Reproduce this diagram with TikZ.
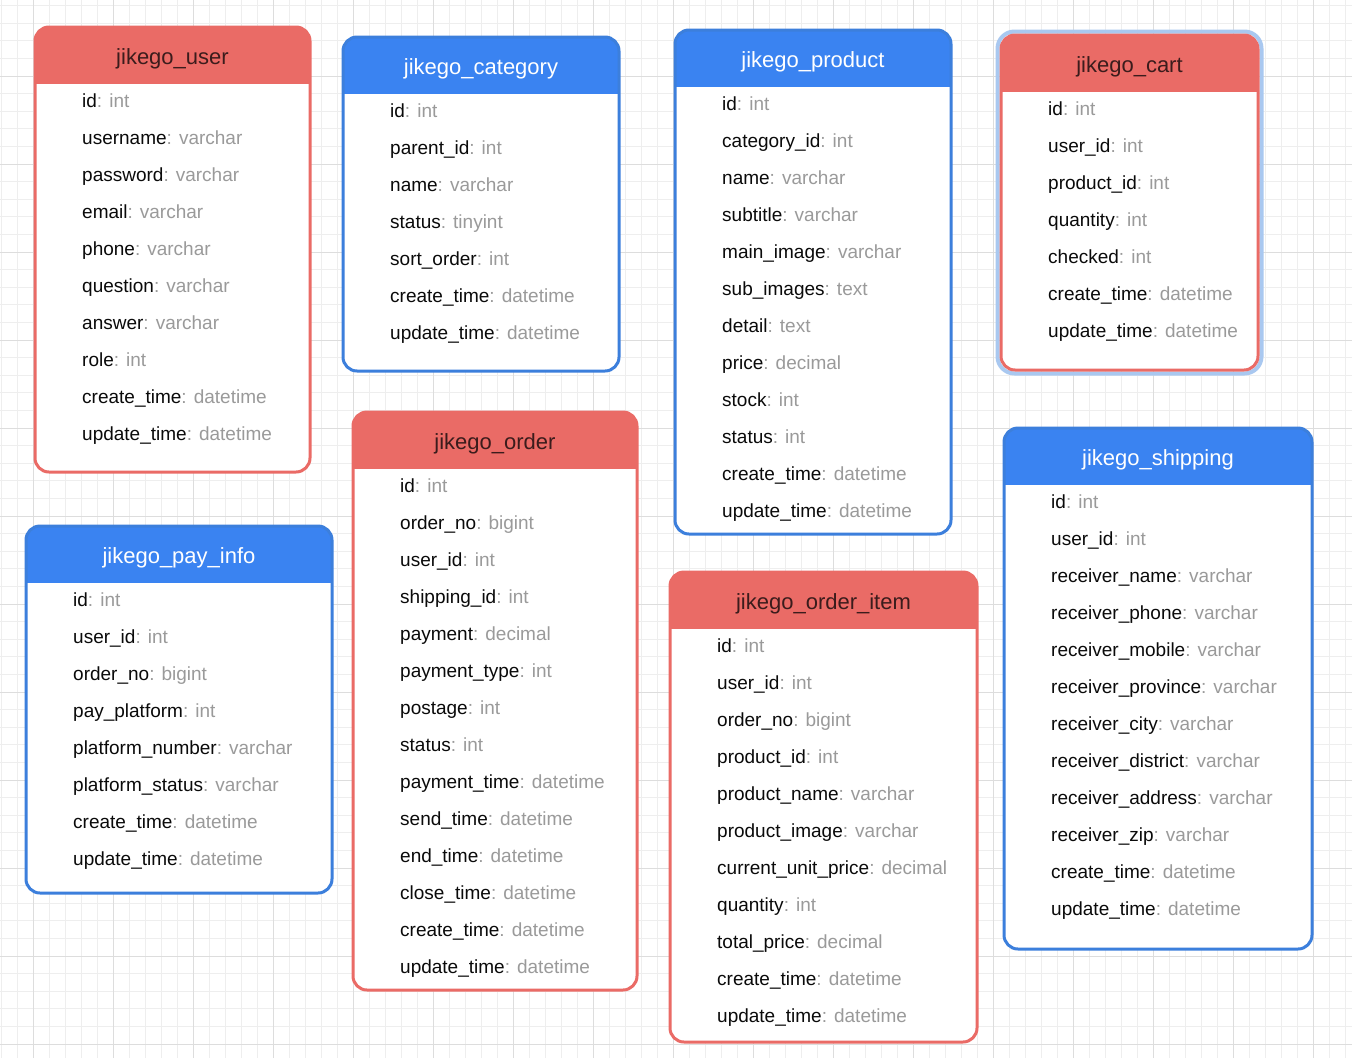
\documentclass[tikz,border=0pt]{standalone}
\usepackage{fontspec}
\setmainfont{Liberation Sans}
\definecolor{erred}{HTML}{EA6B66}
\definecolor{erblue}{HTML}{3A83F1}
\definecolor{erblueline}{HTML}{3C7FDC}
\definecolor{halo}{HTML}{A9C8F0}
\definecolor{redtitle}{HTML}{3B1C1C}
\definecolor{typegray}{HTML}{9A9A9A}
\definecolor{fieldblack}{HTML}{0A0A0A}
\definecolor{minorgrid}{HTML}{EEEEEE}
\definecolor{majorgrid}{HTML}{DDDDDD}
\tikzset{
  titlestyle/.style={anchor=base, font=\fontsize{22}{26}\selectfont, inner sep=0pt},
  rowstyle/.style={anchor=base west, font=\fontsize{19}{22}\selectfont, text=fieldblack, inner sep=0pt},
  minorline/.style={draw=minorgrid, line width=1pt},
  majorline/.style={draw=majorgrid, line width=1pt}
}
% #1 name, #2 x1, #3 y1, #4 x2, #5 y2, #6 colour, #7 border colour, #8 title colour, #9 title/rows
\newcommand\erTable[9]{%
  \fill[white, rounded corners=14pt] (#2,#3) rectangle (#4,#5);
  \begin{scope}
    \clip[rounded corners=14pt] (#2,#3) rectangle (#4,#5);
    \fill[#6] (#2,#3) rectangle (#4,{#3+57});
  \end{scope}
  \draw[#7, line width=3pt, rounded corners=14pt] (#2,#3) rectangle (#4,#5);
  \erRows{#1}{#2}{#3}{#4}{#8}#9%
}
% #1 name, #2 x1, #3 y1, #4 x2, #5 title colour, #6 title, #7 rows
\newcommand\erRows[7]{%
  \node[titlestyle, text=#5] (#1) at ({(#2+#4)/2},{#3+37}) {#6};
  \foreach \fn/\ft [count=\i] in {#7} {
    \node[rowstyle] (#1-\i) at ({#2+47},{#3+80+37*(\i-1)}) {\fn\textcolor{typegray}{: \ft}};
  }%
}
\begin{document}
\begin{tikzpicture}[x=1pt,y=-1pt]
\useasboundingbox (0,0) rectangle (1352,1058);
\fill[white] (0,0) rectangle (1352,1058);
% grid
\foreach \k in {0,...,84} \draw[minorline] ({1+16*\k},0) -- ({1+16*\k},1058);
\foreach \k in {0,...,60} \draw[minorline] (0,{5.6+17.6*\k}) -- (1352,{5.6+17.6*\k});
\foreach \k in {0,...,16} \draw[majorline] ({33+80*\k},0) -- ({33+80*\k},1058);
\foreach \k in {1,...,12} \draw[majorline] (0,{-12+88*\k}) -- (1352,{-12+88*\k});

% cart halo
\draw[halo, line width=4pt, rounded corners=17pt] (997.5,31.5) rectangle (1261.5,373.5);

\erTable{user}{35}{27}{310}{472}{erred}{erred}{redtitle}{{jikego\_user}{id/int, username/varchar, password/varchar, email/varchar, phone/varchar, question/varchar, answer/varchar, role/int, create\_time/datetime, update\_time/datetime}}

\erTable{category}{343}{37}{619}{371}{erblue}{erblueline}{white}{{jikego\_category}{id/int, parent\_id/int, name/varchar, status/tinyint, sort\_order/int, create\_time/datetime, update\_time/datetime}}

\erTable{product}{675}{30}{951}{534}{erblue}{erblueline}{white}{{jikego\_product}{id/int, category\_id/int, name/varchar, subtitle/varchar, main\_image/varchar, sub\_images/text, detail/text, price/decimal, stock/int, status/int, create\_time/datetime, update\_time/datetime}}

\erTable{cart}{1001}{35}{1258}{370}{erred}{erred}{redtitle}{{jikego\_cart}{id/int, user\_id/int, product\_id/int, quantity/int, checked/int, create\_time/datetime, update\_time/datetime}}

\erTable{order}{353}{412}{637}{990}{erred}{erred}{redtitle}{{jikego\_order}{id/int, order\_no/bigint, user\_id/int, shipping\_id/int, payment/decimal, payment\_type/int, postage/int, status/int, payment\_time/datetime, send\_time/datetime, end\_time/datetime, close\_time/datetime, create\_time/datetime, update\_time/datetime}}

\erTable{payinfo}{26}{526}{332}{893}{erblue}{erblueline}{white}{{jikego\_pay\_info}{id/int, user\_id/int, order\_no/bigint, pay\_platform/int, platform\_number/varchar, platform\_status/varchar, create\_time/datetime, update\_time/datetime}}

\erTable{orderitem}{670}{572}{977}{1042}{erred}{erred}{redtitle}{{jikego\_order\_item}{id/int, user\_id/int, order\_no/bigint, product\_id/int, product\_name/varchar, product\_image/varchar, current\_unit\_price/decimal, quantity/int, total\_price/decimal, create\_time/datetime, update\_time/datetime}}

\erTable{shipping}{1004}{428}{1312}{949}{erblue}{erblueline}{white}{{jikego\_shipping}{id/int, user\_id/int, receiver\_name/varchar, receiver\_phone/varchar, receiver\_mobile/varchar, receiver\_province/varchar, receiver\_city/varchar, receiver\_district/varchar, receiver\_address/varchar, receiver\_zip/varchar, create\_time/datetime, update\_time/datetime}}
\end{tikzpicture}
\end{document}
